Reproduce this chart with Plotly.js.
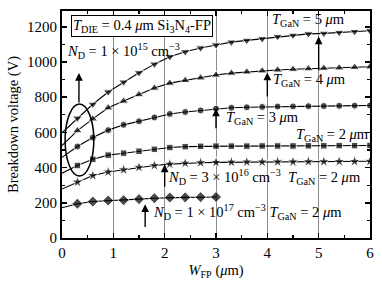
<!DOCTYPE html>
<html><head><meta charset="utf-8">
<script src="https://cdn.plot.ly/plotly-3.0.1.min.js"></script>
<style>html,body{margin:0;padding:0;background:#fff}#c{width:382px;height:286px}</style>
</head><body><div id="c"></div>
<script>
const wfp = [0,0.3,0.6,0.9,1.2,1.5,1.8,2.1,2.4,2.7,3.0,3.3,3.6,3.9,4.2,4.5,4.8,5.1,5.4,5.7,6.0];
const wfpShort = [0,0.3,0.6,0.9,1.2,1.5,1.8,2.1,2.4,2.7,3.0];
const vT5 = [598,681,760,830,886,939,988,1030,1058,1080,1097,1113,1123,1132,1145,1152,1160,1163,1168,1173,1178];
const vT4 = [525,610,677,740,778,815,852,880,896,910,926,937,944,950,955,959,962,965,967,970,973];
const vT3 = [458,520,571,613,643,663,685,705,716,725,735,740,743,745,747,748,749,750,751,752,753];
const vT2 = [368,412,447,471,482,493,504,514,519,521,522,522,522,523,523,523,524,524,525,525,526];
const vND16 = [278,318,355,375,388,402,412,420,425,428,430,431,432,432,433,433,434,434,435,435,436];
const vND17 = [172,195,207,213,215,221,226,230,231,232,233];
const xTicks = [0,1,2,3,4,5,6];
const yTicks = [0,200,400,600,800,1000,1200];

const F = "Liberation Serif";
function tr(x, y, sym, sz) {
  return {x: x, y: y, mode: 'lines+markers', type: 'scatter',
    line: {color: '#000', width: 1.1},
    marker: {symbol: sym, color: '#000', size: x.map(v => v === 0 ? 0 : sz)},
    showlegend: false, hoverinfo: 'skip'};
}
const data = [
  tr(wfp, vT5, 'triangle-down', 8.5),
  tr(wfp, vT4, 'triangle-up', 8.5),
  tr(wfp, vT3, 'circle', 7),
  tr(wfp, vT2, 'square', 6.5),
  tr(wfp, vND16, 'star', 9),
  tr(wfpShort, vND17, 'diamond', 8.5)
];

function txt(x, y, t) {
  return {x: x, y: y, xref: 'x', yref: 'y', text: t, showarrow: false,
    xanchor: 'left', yanchor: 'middle', font: {family: F, size: 14.5, color: '#000'}};
}
function arr(x, y0, y1) {
  return {x: x, y: y1, ax: x, ay: y0, xref: 'x', yref: 'y', axref: 'x', ayref: 'y',
    text: '', showarrow: true, arrowhead: 2, arrowsize: 1.1, arrowwidth: 1.4, arrowcolor: '#000', standoff: 0, startstandoff: 0};
}
const TG = n => '<i>T</i><sub>GaN</sub> = ' + n + ' <i>μ</i>m';
const annotations = [
  Object.assign(txt(0.17, 1203, '<i>T</i><sub>DIE</sub> = 0.4 <i>μ</i>m Si<sub>3</sub>N<sub>4</sub>-FP'),
    {bordercolor: '#000', borderwidth: 1, borderpad: 1, bgcolor: '#fff'}),
  txt(0.05, 1062, '<i>N</i><sub>D</sub> = 1 × 10<sup>15</sup> cm<sup>−3</sup>'),
  txt(4.06, 1239, TG(5)),
  txt(4.08, 898, TG(4)),
  txt(3.15, 682, TG(3)),
  txt(4.52, 585, TG(2)),
  txt(2.03, 347, '<i>N</i><sub>D</sub> = 3 × 10<sup>16</sup> cm<sup>−3</sup>  ' + TG(2)),
  txt(1.74, 148, '<i>N</i><sub>D</sub> = 1 × 10<sup>17</sup> cm<sup>−3</sup> ' + TG(2)),
  arr(0.33, 761, 937),
  arr(5, 943, 1145),
  arr(4, 795, 940),
  arr(3, 615, 735),
  arr(2, 283, 418),
  arr(1.62, 54, 192)
];

const layout = {
  width: 382, height: 286,
  margin: {l: 62, r: 12, t: 11, b: 48},
  paper_bgcolor: '#fff', plot_bgcolor: '#fff',
  font: {family: F, size: 14, color: '#000'},
  xaxis: {range: [0, 6], tickvals: xTicks, ticktext: xTicks.map(String),
    ticks: 'inside', ticklen: 5, tickwidth: 1.5, tickcolor: '#000',
    minor: {dtick: 0.5, ticks: 'inside', ticklen: 3, tickwidth: 1.2, tickcolor: '#000', showgrid: false},
    showline: true, linewidth: 2, linecolor: '#000', mirror: 'ticks',
    showgrid: true, gridcolor: '#8c8c8c', gridwidth: 1, zeroline: false,
    tickfont: {family: F, size: 15},
    title: {text: '<i>W</i><sub>FP</sub> (<i>μ</i>m)', font: {family: F, size: 14.5}, standoff: 5}},
  yaxis: {range: [0, 1290], tickvals: yTicks, ticktext: yTicks.map(String),
    ticks: 'inside', ticklen: 5, tickwidth: 1.5, tickcolor: '#000',
    minor: {dtick: 100, ticks: 'inside', ticklen: 3, tickwidth: 1.2, tickcolor: '#000', showgrid: false},
    showline: true, linewidth: 2, linecolor: '#000', mirror: 'ticks',
    showgrid: false, zeroline: false,
    tickfont: {family: F, size: 15},
    title: {text: 'Breakdown voltage (V)', font: {family: F, size: 14.5}, standoff: 5}},
  shapes: [{type: 'circle', xref: 'x', yref: 'y', x0: 0.06, x1: 0.62, y0: 352, y1: 761,
    line: {color: '#000', width: 1.5}}],
  annotations: annotations
};
Plotly.newPlot('c', data, layout, {staticPlot: true, displayModeBar: false});
</script></body></html>
